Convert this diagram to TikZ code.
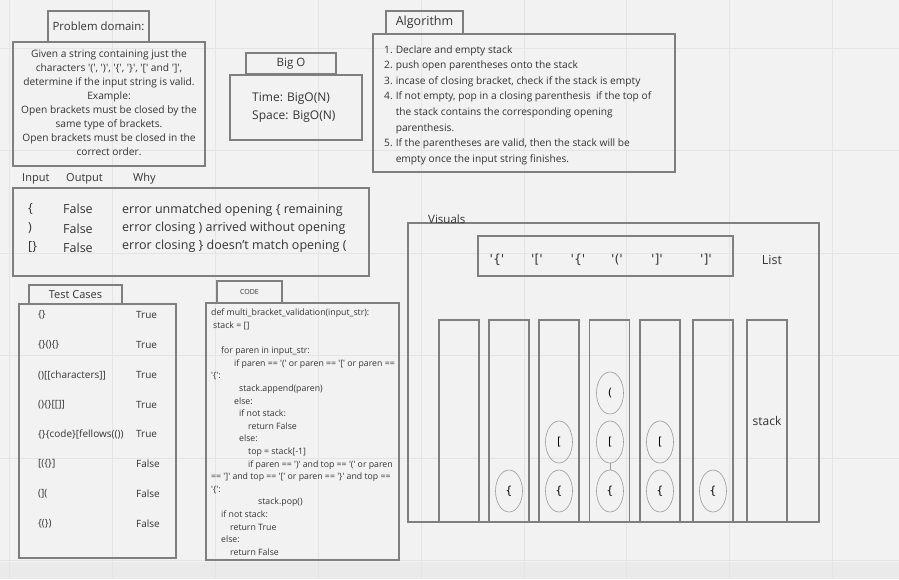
\documentclass[tikz,border=0pt]{standalone}
\usepackage{fontspec}
\setmainfont{Open Sans}
\newfontfamily\monof{DejaVu Sans Mono}
\newfontfamily\itemf{DejaVu Sans}
\usetikzlibrary{shapes.geometric}
\definecolor{bg}{HTML}{F2F2F2}
\definecolor{gridc}{HTML}{E4E4E4}
\definecolor{band}{HTML}{EAEAEA}
\definecolor{boxc}{HTML}{7F7F7F}
\definecolor{txt}{HTML}{333333}
\definecolor{ellc}{HTML}{9A9A9A}
\newcommand\myq{\textquotesingle}
\begin{document}
\begin{tikzpicture}[x=1pt,y=-1pt,
  box/.style={draw=boxc, line width=1.1pt, inner sep=0pt, text=txt},
  lbl/.style={inner sep=0pt, text=txt},
  col/.style={box, minimum width=40pt, minimum height=202pt},
  bub/.style={ellipse, draw=ellc, line width=0.6pt, minimum width=27pt, minimum height=42pt, inner sep=0pt, text=black, font=\monof\fontsize{11}{13}\selectfont},
  item/.style={lbl, font=\itemf\fontsize{12.5}{14}\selectfont},
  tc/.style={lbl, anchor=west, font=\fontsize{10}{12}\selectfont},
  io/.style={lbl, anchor=west, font=\fontsize{12.5}{15}\selectfont}]
\useasboundingbox (0,0) rectangle (899,579);
\fill[bg] (0,0) rectangle (899,579);
\fill[band] (0,562) rectangle (899,579);
\foreach \x in {9,112,215,318,421,524,626,729,832}
  \draw[gridc, line width=0.8pt] (\x,0) -- (\x,579);
\foreach \y in {48,150,253,355,458,560}
  \draw[gridc, line width=0.8pt] (0,\y) -- (899,\y);

% Problem domain
\node[box, minimum width=101pt, minimum height=31pt, font=\fontsize{11.4}{13}\selectfont] (pdt) at (98.5,26.5) {Problem domain:};
\node[box, minimum width=192pt, minimum height=124pt] (pdb) at (109,104) {};
\node[lbl, align=center, font=\fontsize{10.2}{14}\selectfont] (pdtext) at (109,103) {Given a string containing just the\\
characters \myq(\myq, \myq)\myq, \myq\{\myq, \myq\}\myq, \myq[\myq{} and \myq]\myq,\\
determine if the input string is valid.\\
Example:\\
Open brackets must be closed by the\\
same type of brackets.\\
Open brackets must be closed in the\\
correct order.};

% Big O
\node[box, minimum width=90pt, minimum height=21pt, font=\fontsize{11.5}{13}\selectfont] (bot) at (291,63.5) {Big O};
\node[box, minimum width=132pt, minimum height=65pt] (bob) at (296,107.5) {};
\node[lbl, anchor=west, align=left, font=\fontsize{12}{18}\selectfont] (botext) at (252,108) {Time: BigO(N)\\Space: BigO(N)};

% Algorithm
\node[box, minimum width=77pt, minimum height=23pt, font=\fontsize{12.5}{14}\selectfont] (alt) at (424.5,22.5) {Algorithm};
\node[box, minimum width=302pt, minimum height=138pt] (alb) at (524,103) {};
\node[lbl, anchor=west, font=\fontsize{10.2}{15.6}\selectfont] (altext) at (384,104.5) {\begin{tabular}{@{}l@{\hspace{3pt}}l@{}}
1. & Declare and empty stack\\
2. & push open parentheses onto the stack\\
3. & incase of closing bracket, check if the stack is empty\\
4. & If not empty, pop in a closing parenthesis\ \ if the top of\\
   & the stack contains the corresponding opening\\
   & parenthesis.\\
5. & If the parentheses are valid, then the stack will be\\
   & empty once the input string finishes.
\end{tabular}};

% Input / Output / Why
\node[lbl, anchor=west, font=\fontsize{11}{13}\selectfont] (hin) at (22,179) {Input};
\node[lbl, anchor=west, font=\fontsize{11}{13}\selectfont] (hout) at (66,179) {Output};
\node[lbl, anchor=west, font=\fontsize{11}{13}\selectfont] (hwhy) at (133,179) {Why};
\node[box, minimum width=356pt, minimum height=88pt] (iob) at (191,232) {};
\node[io] (i1) at (28,209) {\{};
\node[io] (o1) at (63,209) {False};
\node[io] (w1) at (122,210) {error unmatched opening \{ remaining};
\node[io] (i2) at (28,228) {)};
\node[io] (o2) at (63,229) {False};
\node[io] (w2) at (122,228) {error closing ) arrived without opening};
\node[io] (i3) at (28,247) {[\}};
\node[io] (o3) at (63,248) {False};
\node[io] (w3) at (122,246) {error closing \} doesn't match opening (};

% Test cases
\node[box, minimum width=93pt, minimum height=19pt, font=\fontsize{11}{13}\selectfont] (tct) at (75.5,294.5) {Test Cases};
\node[box, minimum width=157pt, minimum height=254pt] (tcb) at (97.5,431) {};
\node[tc] (t1) at (38,315) {\{\}};
\node[tc] (r1) at (136,315) {True};
\node[tc] (t2) at (38,345) {\{\}()\{\}};
\node[tc] (r2) at (136,345) {True};
\node[tc] (t3) at (38,375) {()[[characters]]};
\node[tc] (r3) at (136,375) {True};
\node[tc] (t4) at (38,405) {()\{\}[[]]};
\node[tc] (r4) at (136,405) {True};
\node[tc] (t5) at (38,434) {\{\}\{code\}[fellows(())};
\node[tc] (r5) at (136,434) {True};
\node[tc] (t6) at (38,464) {[(\{\}]};
\node[tc] (r6) at (136,464) {False};
\node[tc] (t7) at (38,494) {(](};
\node[tc] (r7) at (136,494) {False};
\node[tc] (t8) at (38,524) {\{(\})};
\node[tc] (r8) at (136,524) {False};

% Code
\node[box, minimum width=65pt, minimum height=22pt, font=\fontsize{7}{9}\selectfont] (cdt) at (249.5,292) {CODE};
\node[box, minimum width=193pt, minimum height=257pt] (cdb) at (302.5,431.5) {};
\node[lbl, anchor=north west, align=left, font=\fontsize{8.75}{12.6}\selectfont] (code) at (211,309) {def multi\_bracket\_validation(input\_str):\\
\hspace*{2pt}stack = []\\
\mbox{}\\
\hspace*{10pt}for paren in input\_str:\\
\hspace*{23pt}if paren == \myq(\myq{} or paren == \myq[\myq{} or paren ==\\
\myq\{\myq:\\
\hspace*{28pt}stack.append(paren)\\
\hspace*{23pt}else:\\
\hspace*{28pt}if not stack:\\
\hspace*{37pt}return False\\
\hspace*{28pt}else:\\
\hspace*{37pt}top = stack[-1]\\
\hspace*{37pt}if paren == \myq)\myq{} and top == \myq(\myq{} or paren\\
== \myq]\myq{} and top == \myq[\myq{} or paren == \myq\}\myq{} and top ==\\
\myq\{\myq:\\
\hspace*{47pt}stack.pop()\\
\hspace*{10pt}if not stack:\\
\hspace*{19pt}return True\\
\hspace*{10pt}else:\\
\hspace*{19pt}return False};

% Visuals
\node[box, minimum width=411pt, minimum height=299pt] (vis) at (613.5,372.5) {};
\node[lbl, anchor=west, font=\fontsize{11.5}{13}\selectfont] (vist) at (428,219) {Visuals};
\node[box, minimum width=255pt, minimum height=40pt] (lst) at (605.5,256) {};
\node[item] (l1) at (497,260) {\myq\{\myq};
\node[item] (l2) at (537,260) {\myq[\myq};
\node[item] (l3) at (578,260) {\myq\{\myq};
\node[item] (l4) at (617,260) {\myq(\myq};
\node[item] (l5) at (657,260) {\myq]\myq};
\node[item] (l6) at (706,260) {\myq]\myq};
\node[lbl, font=\fontsize{12.5}{14}\selectfont] (listt) at (772,260) {List};

\node[col] (c1) at (459,421) {};
\node[col] (c2) at (509,421) {};
\node[col] (c3) at (559,421) {};
\node[col] (c4) at (609.5,421) {};
\node[col] (c5) at (660,421) {};
\node[col] (c6) at (713,421) {};
\node[col, font=\fontsize{12}{14}\selectfont] (c7) at (767,421) {stack};

\node[bub] (e2a) at (509,491) {\{};
\node[bub] (e3a) at (559,491) {\{};
\node[bub] (e3b) at (559,442) {[};
\node[bub] (e4a) at (610,491) {\{};
\node[bub] (e4b) at (610,442) {[};
\node[bub] (e4c) at (610,393) {(};
\node[bub] (e5a) at (660,491) {\{};
\node[bub] (e5b) at (660,442) {[};
\node[bub] (e6a) at (713,491) {\{};
\draw[ellc, line width=0.6pt] (e4b.south) -- (e4a.north);
\end{tikzpicture}
\end{document}
